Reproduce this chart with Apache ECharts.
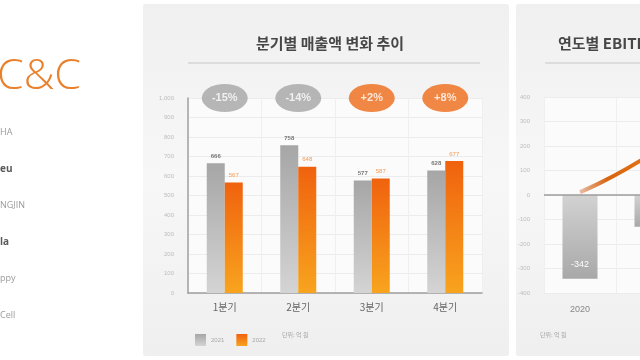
<!DOCTYPE html>
<html><head><meta charset="utf-8">
<script src="https://cdn.jsdelivr.net/npm/echarts@6/dist/echarts.min.js"></script>
<style>html,body{margin:0;padding:0;background:#fff;overflow:hidden;width:640px;height:360px}#c{width:800px;height:360px}</style>
</head><body><div id="c"></div>
<script>
const quarters = ['1분기','2분기','3분기','4분기'];
const sales2021 = [666, 758, 577, 628];
const sales2022 = [567, 648, 587, 677];
const changeLabels = ['-15%','-14%','+2%','+8%'];
const salesTicks = [0,100,200,300,400,500,600,700,800,900,1000];
const years = ['2020','2021','2022'];
const ebitdaBars = [-342, -130, null];
const ebitdaTrend = [12, 170, 390];
const brandTexts = ['HA','eu','NGJIN','la','ppy','Cell'];

const KR = '"Noto Sans CJK KR","Noto Sans",sans-serif';
const chart = echarts.init(document.getElementById('c'));

const greyGrad = new echarts.graphic.LinearGradient(0,0,0,1,[{offset:0,color:'#a6a6a6'},{offset:1,color:'#d4d4d4'}]);
const orangeGrad = new echarts.graphic.LinearGradient(0,0,0,1,[{offset:0,color:'#f0620e'},{offset:1,color:'#f8a41e'}]);
const greyNegGrad = new echarts.graphic.LinearGradient(0,0,0,1,[{offset:0,color:'#d2d2d2'},{offset:1,color:'#a8a8a8'}]);
const panelGrad = ()=>new echarts.graphic.LinearGradient(0,0,0,1,[{offset:0,color:'#f0f0f0'},{offset:0.5,color:'#f7f7f7'},{offset:1,color:'#efefef'}]);

const brandGraphics = brandTexts.map((t,i)=>{
  const bold = (t==='eu'||t==='la');
  return {type:'text', position:[0,0],
    style:{text:t, x:0, y:128 + i*36.5, fontSize: bold?10:9, fontWeight: bold?'bold':'normal',
      fill: bold?'#5a5a5a':'#9a9a9a', fontFamily:'"Open Sans",sans-serif'}};
});

chart.setOption({
  animation:false,
  backgroundColor:'#ffffff',
  graphic:[
    {type:'rect', z:-10, shape:{x:143,y:4,width:366,height:352,r:2}, style:{fill:panelGrad()}},
    {type:'rect', z:-10, shape:{x:516,y:4,width:300,height:352,r:2}, style:{fill:panelGrad()}},
    {type:'text', position:[330,36], style:{text:'분기별 매출액 변화 추이', x:0, y:0, align:'center', fontSize:15, fontWeight:'bold', fill:'#474747', fontFamily:KR}},
    {type:'line', shape:{x1:188,y1:63,x2:480,y2:63}, style:{stroke:'#dcdcdc', lineWidth:2}},
    {type:'text', position:[558,36], style:{text:'연도별 EBITDA 변화 추이', x:0, y:0, fontSize:15, fontWeight:'bold', fill:'#474747', fontFamily:KR}},
    {type:'line', shape:{x1:545,y1:63,x2:780,y2:63}, style:{stroke:'#dcdcdc', lineWidth:2}},
    {type:'text', position:[-3,55], style:{text:'C&C', x:0, y:0, fontSize:43, fill:'#e9802c', fontFamily:'"Open Sans",sans-serif', fontWeight:300}},
    ...brandGraphics,
    {type:'text', position:[282,332], style:{text:'단위: 억 원', x:0, y:0, fontSize:6, fill:'#a8a8a8', fontFamily:KR}},
    {type:'text', position:[540,332], style:{text:'단위: 억 원', x:0, y:0, fontSize:6, fill:'#a8a8a8', fontFamily:KR}}
  ],
  legend:{
    left:190, top:329, itemWidth:11, itemHeight:12, itemGap:12, icon:'rect',
    data:['2021','2022'], textStyle:{fontSize:6, color:'#a8a8a8'}
  },
  grid:[
    {left:188, width:294, top:98, bottom:67, show:true, backgroundColor:'#fbfbfb', borderWidth:0},
    {left:544, width:216, top:97, bottom:67, show:true, backgroundColor:'#fbfbfb', borderWidth:0}
  ],
  xAxis:[
    {type:'category', gridIndex:0, data:quarters,
      axisLine:{lineStyle:{color:'#9d9d9d', width:1.5}}, axisTick:{show:false},
      axisLabel:{fontSize:10, color:'#666', margin:9, fontFamily:KR},
      splitLine:{show:true, interval:0, lineStyle:{color:'#efefef'}}},
    {type:'category', gridIndex:1, data:years, position:'bottom',
      axisLine:{onZero:false, show:false}, axisTick:{show:false},
      axisLabel:{fontSize:9, color:'#888', margin:12},
      splitLine:{show:true, interval:0, lineStyle:{color:'#efefef'}}}
  ],
  yAxis:[
    {type:'value', gridIndex:0, min:0, max:1000, interval:100,
      axisLine:{show:true, lineStyle:{color:'#a0a0a0', width:1.5}}, axisTick:{show:false},
      axisLabel:{fontSize:6, color:'#bdbdbd', margin:14, formatter:v=>salesTicks.includes(v)?v.toLocaleString('en-US'):''},
      splitLine:{lineStyle:{color:'#ececec'}}},
    {type:'value', gridIndex:1, min:-400, max:400, interval:100,
      axisLine:{show:false}, axisTick:{show:false},
      axisLabel:{fontSize:6, color:'#bdbdbd', margin:14},
      splitLine:{lineStyle:{color:'#ececec'}}}
  ],
  series:[
    {name:'2021', type:'bar', xAxisIndex:0, yAxisIndex:0, data:sales2021, barWidth:18, barGap:'0%',
      itemStyle:{color:greyGrad},
      label:{show:true, position:'top', fontSize:6, fontWeight:'bold', color:'#777', distance:4}},
    {name:'2022', type:'bar', xAxisIndex:0, yAxisIndex:0, data:sales2022, barWidth:18, barGap:'0%',
      itemStyle:{color:orangeGrad},
      label:{show:true, position:'top', fontSize:6, color:'#f39a55', distance:4}},
    {name:'change', type:'scatter', xAxisIndex:0, yAxisIndex:0,
      data:changeLabels.map(()=>1000),
      symbol:'circle', symbolSize:[46,28], z:5,
      itemStyle:{color:p=>changeLabels[p.dataIndex].startsWith('+')?'#ee6a17':'#a5a5a5'},
      label:{show:true, position:'inside', color:'#fff', fontSize:11,
        fontWeight:'bold', formatter:p=>changeLabels[p.dataIndex]}},
    {name:'ebitda', type:'bar', xAxisIndex:1, yAxisIndex:1, data:ebitdaBars, barWidth:35,
      itemStyle:{color:greyNegGrad},
      label:{show:true, position:'insideBottom', distance:10, color:'#fff', fontSize:9}},
    {name:'trend', type:'line', xAxisIndex:1, yAxisIndex:1, data:ebitdaTrend, smooth:0.6, symbol:'none', z:6,
      lineStyle:{width:4, color:new echarts.graphic.LinearGradient(0,0,1,0,[{offset:0,color:'rgba(200,80,10,0.3)'},{offset:0.2,color:'#d9650f'},{offset:1,color:'#f58a1c'}])}},
    {name:'zero', type:'line', xAxisIndex:1, yAxisIndex:1, data:[], markLine:{silent:true, symbol:'none', label:{show:false},
      lineStyle:{color:'#9d9d9d', width:1.5, type:'solid'}, data:[{yAxis:0}]}}
  ]
});
</script></body></html>
